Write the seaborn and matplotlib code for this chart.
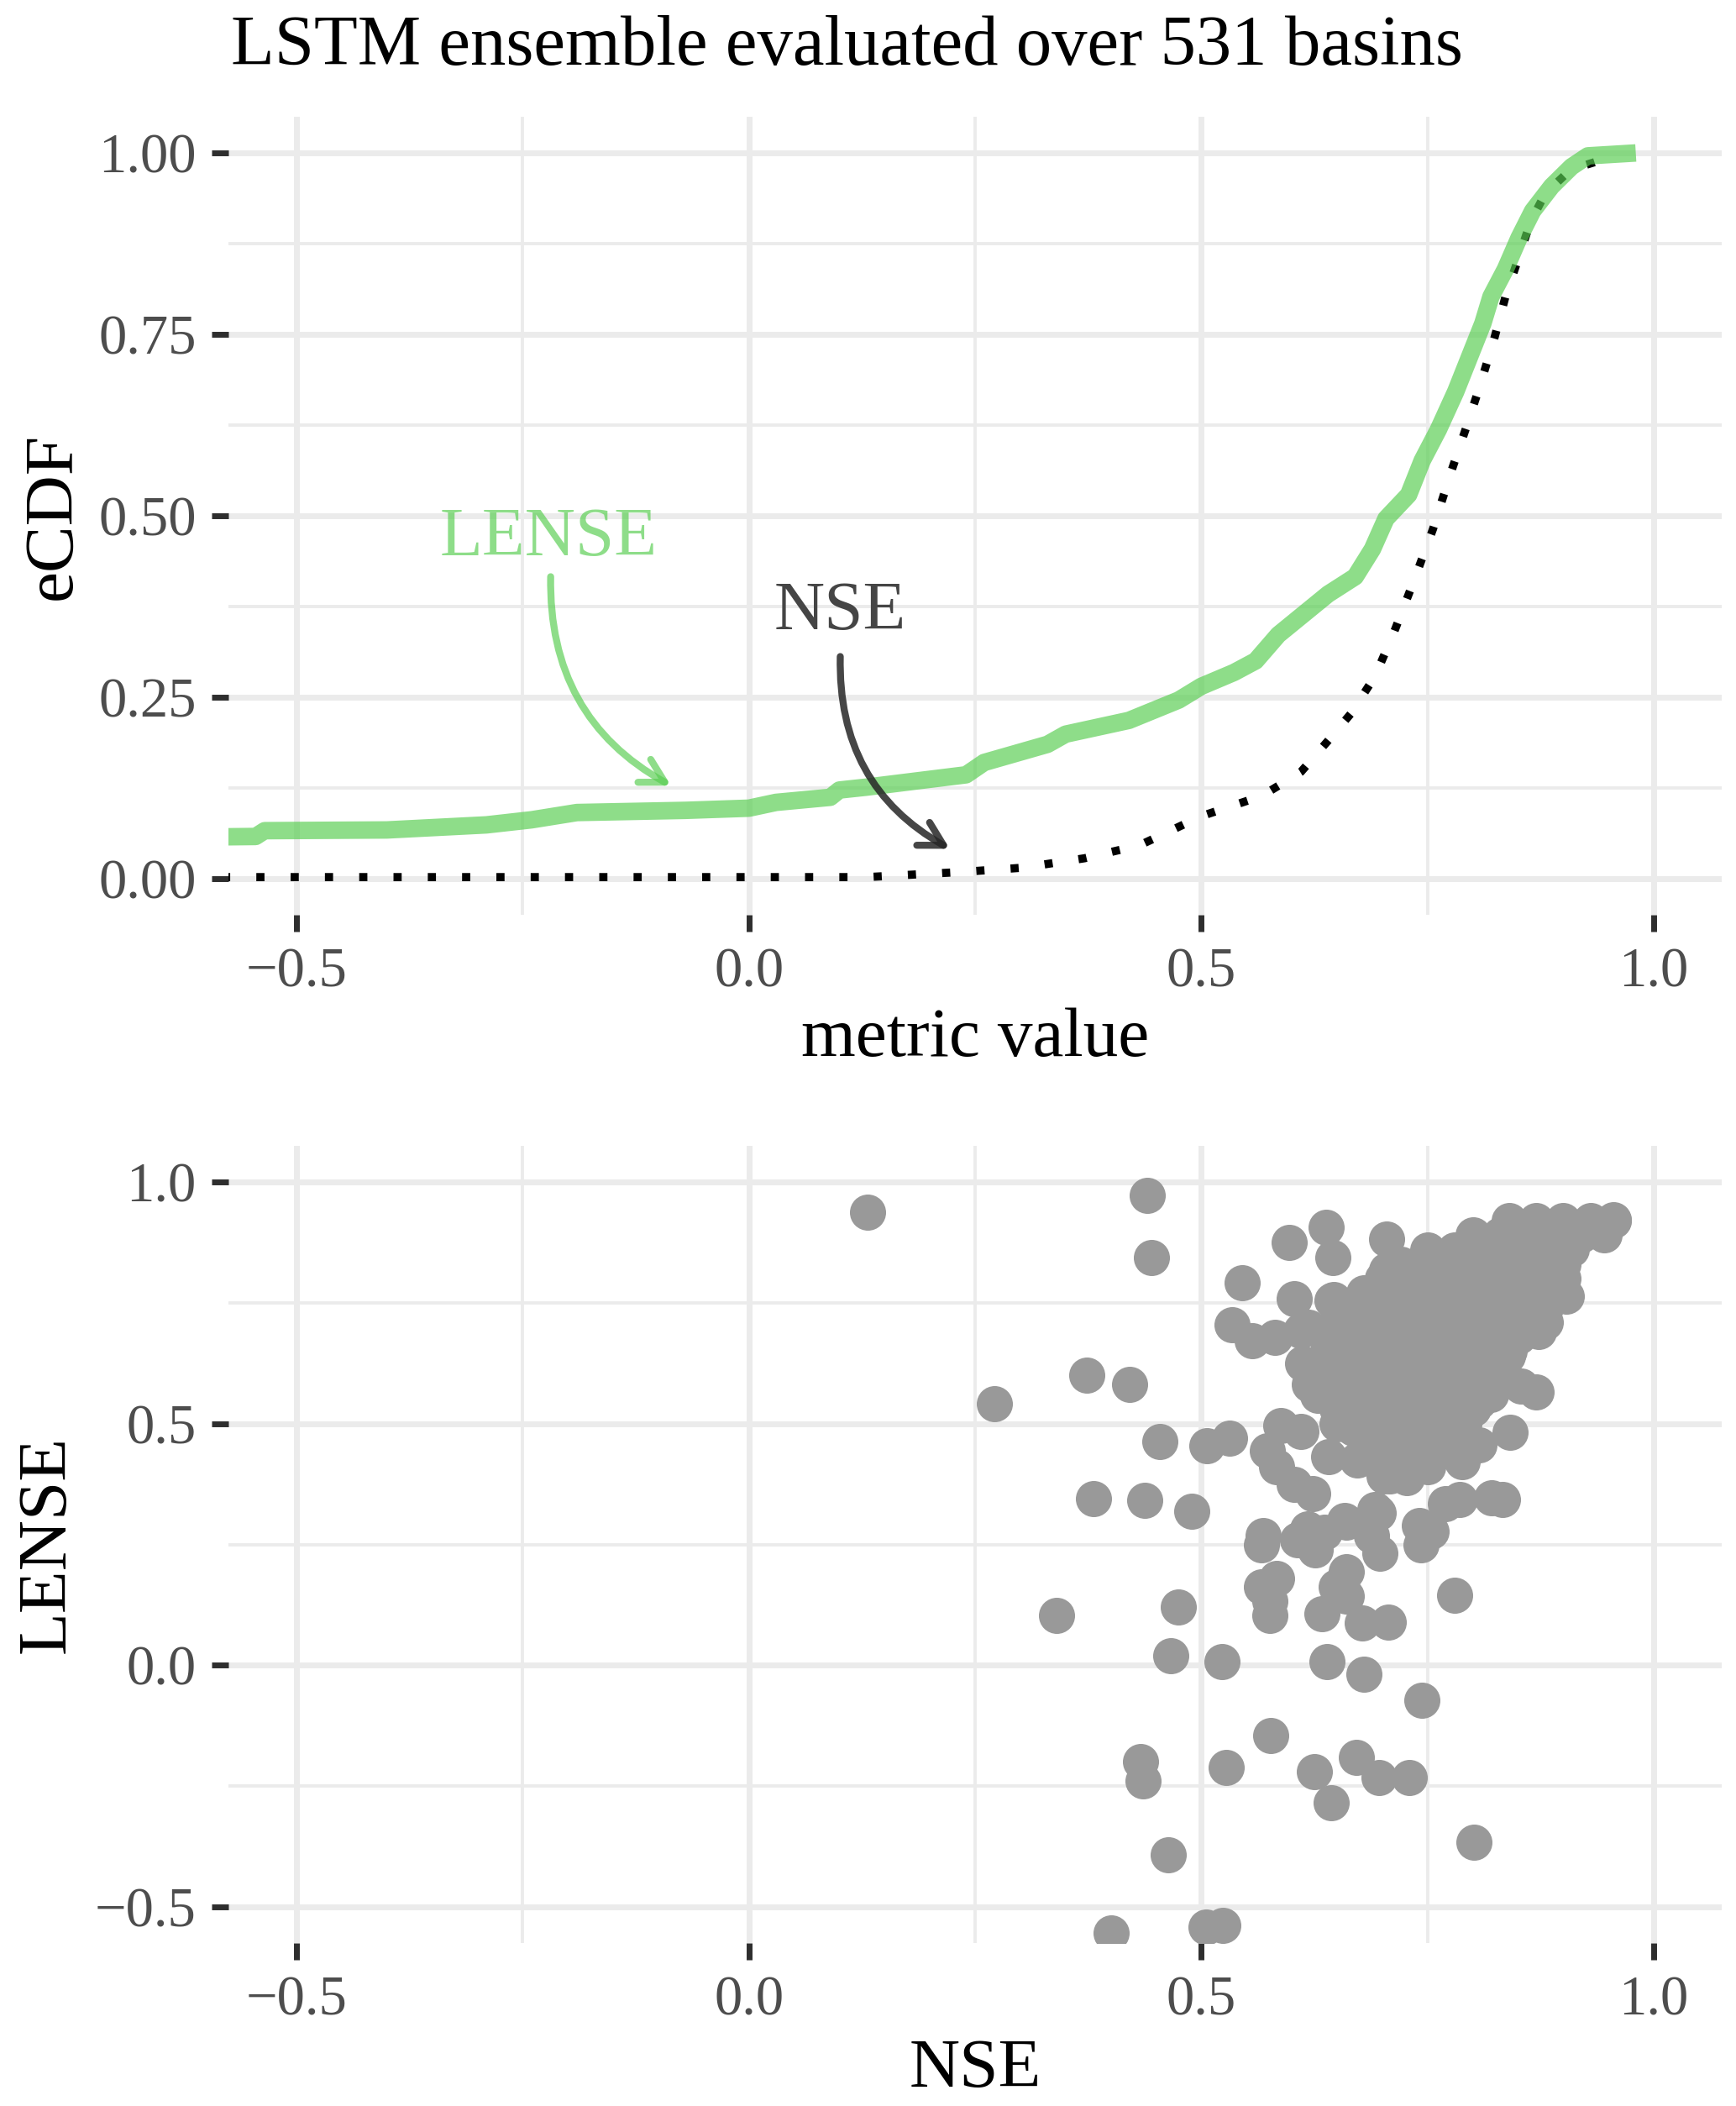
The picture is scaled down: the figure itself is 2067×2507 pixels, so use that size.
import numpy as np
import pandas as pd
import matplotlib
matplotlib.use("Agg")
import matplotlib.pyplot as plt
from matplotlib.ticker import MultipleLocator, FuncFormatter
import seaborn as sns

# ── data ────────────────────────────────────────────────────
# eCDF curves (metric value, cumulative share of 531 basins)
lense_q = [-0.62, -0.545, -0.535, -0.40, -0.29, -0.24, -0.19, -0.07, 0.00, 0.03,
           0.09, 0.10, 0.13, 0.24, 0.26, 0.33, 0.35, 0.42, 0.475, 0.50, 0.536,
           0.56, 0.585, 0.640, 0.670, 0.689, 0.704, 0.729, 0.744, 0.762, 0.781,
           0.796, 0.811, 0.820, 0.836, 0.851, 0.866, 0.887, 0.909, 0.927, 0.980]
lense_p = [0.057, 0.058, 0.066, 0.067, 0.074, 0.081, 0.091, 0.094, 0.097, 0.105,
           0.112, 0.122, 0.126, 0.143, 0.160, 0.185, 0.199, 0.218, 0.246, 0.265, 0.284,
           0.300, 0.336, 0.392, 0.416, 0.454, 0.496, 0.529, 0.576, 0.619, 0.671,
           0.718, 0.765, 0.802, 0.840, 0.883, 0.920, 0.954, 0.981, 0.996, 1.000]

nse_q = [-0.62, 0.13, 0.234, 0.303, 0.371, 0.432, 0.50, 0.567, 0.610, 0.640,
         0.665, 0.692, 0.713, 0.735, 0.756, 0.775, 0.793, 0.808, 0.824, 0.836,
         0.849, 0.864, 0.880, 0.908, 0.944, 0.955]
nse_p = [0.002, 0.002, 0.009, 0.015, 0.028, 0.046, 0.086, 0.114, 0.147, 0.190,
         0.227, 0.279, 0.340, 0.411, 0.482, 0.557, 0.623, 0.680, 0.746, 0.802,
         0.850, 0.906, 0.944, 0.977, 0.991, 1.000]

# scatter: scattered basins
nse_outer = [0.131, 0.440, 0.445, 0.545, 0.597, 0.638, 0.645, 0.705, 0.603, 0.644,
             0.534, 0.556, 0.581, 0.610, 0.612, 0.619, 0.629, 0.373, 0.421, 0.271,
             0.454, 0.506, 0.531, 0.588, 0.610, 0.573, 0.583, 0.603, 0.623, 0.641,
             0.672, 0.702, 0.727, 0.381, 0.437, 0.489, 0.568, 0.566, 0.606, 0.617,
             0.626, 0.636, 0.660, 0.688, 0.697, 0.695, 0.741, 0.743, 0.583, 0.566,
             0.576, 0.576, 0.660, 0.649, 0.660, 0.633, 0.678, 0.707, 0.340, 0.475,
             0.466, 0.523, 0.639, 0.780, 0.680, 0.744, 0.577, 0.433, 0.436, 0.527,
             0.625, 0.671, 0.696, 0.730, 0.643, 0.801, 0.463, 0.400, 0.505, 0.524,
             0.705, 0.756, 0.907, 0.945, 0.955, 0.909, 0.903, 0.897, 0.873, 0.838,
             0.853, 0.870, 0.841, 0.807, 0.807, 0.788, 0.785, 0.833, 0.821, 0.770,
             0.754, 0.708, 0.674, 0.658, 0.692, 0.706, 0.668, 0.630, 0.618, 0.646,
             0.683, 0.655]
lense_outer = [0.937, 0.972, 0.844, 0.792, 0.876, 0.907, 0.844, 0.882, 0.759, 0.755,
               0.704, 0.671, 0.678, 0.692, 0.625, 0.581, 0.558, 0.601, 0.581, 0.541,
               0.463, 0.455, 0.470, 0.496, 0.484, 0.444, 0.410, 0.375, 0.355, 0.432,
               0.425, 0.392, 0.389, 0.345, 0.341, 0.319, 0.269, 0.249, 0.259, 0.282,
               0.239, 0.276, 0.296, 0.269, 0.232, 0.316, 0.289, 0.249, 0.179, 0.163,
               0.133, 0.103, 0.193, 0.163, 0.143, 0.106, 0.088, 0.090, 0.103, 0.120,
               0.020, 0.008, 0.008, 0.145, -0.018, -0.072, -0.145, -0.199, -0.240, -0.211,
               -0.220, -0.190, -0.233, -0.233, -0.284, -0.366, -0.393, -0.554, -0.542, -0.538,
               0.818, 0.847, 0.899, 0.910, 0.922, 0.861, 0.763, 0.798, 0.690, 0.641,
               0.578, 0.566, 0.482, 0.546, 0.456, 0.421, 0.343, 0.343, 0.346, 0.335,
               0.277, 0.392, 0.427, 0.300, 0.323, 0.474, 0.491, 0.566, 0.699, 0.757,
               0.757, 0.688]

# scatter: dense core of basins, one row per LENSE level
core_rows = {
    0.92: [0.84, 0.87, 0.90, 0.93, 0.955],
    0.89: [0.80, 0.83, 0.86, 0.89, 0.92, 0.945],
    0.86: [0.75, 0.78, 0.81, 0.84, 0.87, 0.90],
    0.83: [0.72, 0.75, 0.78, 0.81, 0.84, 0.87, 0.90],
    0.80: [0.70, 0.73, 0.76, 0.79, 0.82, 0.85, 0.88, 0.90],
    0.77: [0.68, 0.71, 0.74, 0.77, 0.80, 0.83, 0.86, 0.89],
    0.74: [0.67, 0.70, 0.73, 0.76, 0.79, 0.82, 0.85, 0.88],
    0.71: [0.65, 0.68, 0.71, 0.74, 0.77, 0.80, 0.83, 0.86, 0.88],
    0.68: [0.64, 0.67, 0.70, 0.73, 0.76, 0.79, 0.82, 0.85],
    0.65: [0.64, 0.67, 0.70, 0.73, 0.76, 0.79, 0.82, 0.84],
    0.62: [0.63, 0.65, 0.68, 0.71, 0.74, 0.77, 0.80, 0.83],
    0.59: [0.64, 0.67, 0.70, 0.73, 0.76, 0.79, 0.82],
    0.56: [0.64, 0.67, 0.70, 0.73, 0.76, 0.79, 0.82],
    0.53: [0.65, 0.68, 0.71, 0.74, 0.77, 0.80],
    0.50: [0.65, 0.68, 0.71, 0.74, 0.77, 0.79],
    0.47: [0.68, 0.71, 0.74, 0.77],
    0.44: [0.70, 0.73, 0.76],
    0.41: [0.72, 0.75],
}

title = "LSTM ensemble evaluated over 531 basins"

# ── build frames ────────────────────────────────────────────
ecdf_lense = pd.DataFrame({"value": lense_q, "ecdf": lense_p})
ecdf_nse = pd.DataFrame({"value": nse_q, "ecdf": nse_p})

core_nse = [x for y, xs in core_rows.items() for x in xs]
core_lense = [y for y, xs in core_rows.items() for x in xs]
pts = pd.DataFrame({"NSE": nse_outer + core_nse,
                    "LENSE": lense_outer + core_lense})

# ── style ───────────────────────────────────────────────────
sns.set_style("white")
plt.rcParams["font.family"] = ["Liberation Serif", "DejaVu Serif"]
plt.rcParams["axes.unicode_minus"] = True

green = (88 / 255, 206 / 255, 81 / 255)
grid_col = "#EBEBEB"
tick_txt = "#4D4D4D"


def minus_fmt(nd):
    return FuncFormatter(lambda v, p: f"{v:.{nd}f}".replace("-", "\u2212"))


def style_axis(ax, ymaj, ymin, ynd):
    for s in ax.spines.values():
        s.set_visible(False)
    ax.xaxis.set_major_locator(MultipleLocator(0.5))
    ax.xaxis.set_minor_locator(MultipleLocator(0.25))
    ax.yaxis.set_major_locator(MultipleLocator(ymaj))
    ax.yaxis.set_minor_locator(MultipleLocator(ymin))
    ax.xaxis.set_major_formatter(minus_fmt(1))
    ax.yaxis.set_major_formatter(minus_fmt(ynd))
    ax.grid(which="major", color=grid_col, lw=5)
    ax.grid(which="minor", color=grid_col, lw=2.8)
    ax.set_axisbelow(True)
    ax.tick_params(which="major", bottom=True, left=True, direction="out",
                   length=14.5, width=5, color="#2E2E2E",
                   pad=13, labelsize=48, labelcolor=tick_txt)
    ax.tick_params(which="minor", bottom=False, left=False, length=0)


fig = plt.figure(figsize=(20.67, 25.07), dpi=100)
ax1 = fig.add_axes([0.1316, 0.5656, 0.8602, 0.379])
ax2 = fig.add_axes([0.1316, 0.0774, 0.8602, 0.3785])

# ── top: eCDF ───────────────────────────────────────────────
sns.lineplot(data=ecdf_nse, x="value", y="ecdf", sort=False, estimator=None,
             color="black", lw=7, linestyle=(0, (1, 3.2)), ax=ax1)
sns.lineplot(data=ecdf_lense, x="value", y="ecdf", sort=False, estimator=None,
             color=green, alpha=0.68, lw=15, solid_capstyle="butt", ax=ax1)

ax1.set_xlim(-0.575, 1.075)
ax1.set_ylim(-0.05, 1.05)
style_axis(ax1, 0.25, 0.125, 2)
ax1.set_xlabel("metric value", fontsize=60, color="black")
ax1.set_ylabel("eCDF", fontsize=60, color="black")
ax1.xaxis.set_label_coords(0.5, -0.156)
ax1.xaxis.label.set_va("center")
ax1.yaxis.set_label_coords(-0.117, 0.5)
ax1.yaxis.label.set_va("center")

ax1.text(-0.221, 0.468, "LENSE", color=green, alpha=0.68, fontsize=60,
         ha="center", va="center")
ax1.annotate("", xy=(-0.086, 0.128), xytext=(-0.219, 0.416),
             arrowprops=dict(arrowstyle="->,head_length=0.5,head_width=0.28",
                             connectionstyle="arc3,rad=0.3", lw=6,
                             color=green, alpha=0.68, mutation_scale=40,
                             shrinkA=0, shrinkB=0))
ax1.text(0.101, 0.367, "NSE", color="#454545", fontsize=60,
         ha="center", va="center")
ax1.annotate("", xy=(0.222, 0.041), xytext=(0.101, 0.306),
             arrowprops=dict(arrowstyle="->,head_length=0.5,head_width=0.28",
                             connectionstyle="arc3,rad=0.3", lw=6,
                             color="#262626", alpha=0.85, mutation_scale=40,
                             shrinkA=0, shrinkB=0))

# ── bottom: scatter ─────────────────────────────────────────
sns.scatterplot(data=pts, x="NSE", y="LENSE", color="#999999", s=960,
                linewidth=0, alpha=1, ax=ax2)
ax2.set_xlim(-0.575, 1.075)
ax2.set_ylim(-0.575, 1.075)
style_axis(ax2, 0.5, 0.25, 1)
ax2.set_xlabel("NSE", fontsize=60, color="black")
ax2.set_ylabel("LENSE", fontsize=60, color="black")
ax2.xaxis.set_label_coords(0.5, -0.159)
ax2.xaxis.label.set_va("center")
ax2.yaxis.set_label_coords(-0.121, 0.5)
ax2.yaxis.label.set_va("center")

fig.text(275 / 2067, 1 - 56 / 2507, title, fontsize=61, color="black",
         ha="left", va="center")

fig.savefig("out.png", dpi=100)
